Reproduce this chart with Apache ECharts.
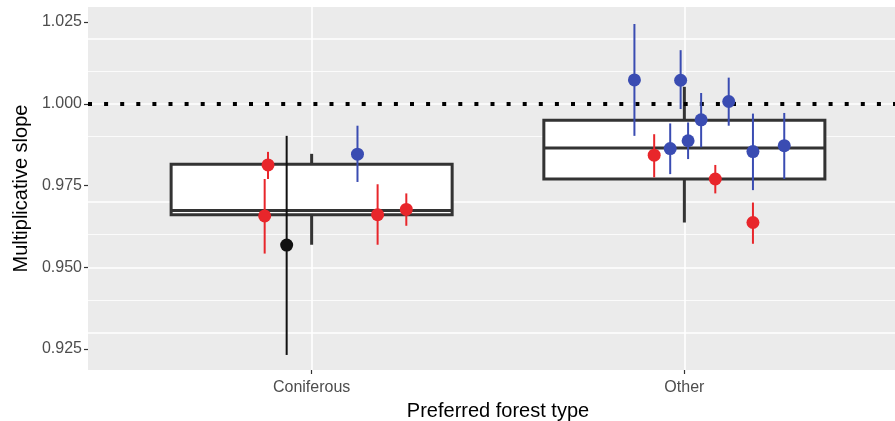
<!DOCTYPE html>
<html>
<head>
<meta charset="utf-8">
<title>Multiplicative slope by forest type</title>
<style>
  html, body { margin: 0; padding: 0; background: #fff; }
  #chart { width: 895px; height: 421px; }
</style>
<script src="https://cdn.jsdelivr.net/npm/echarts@6/dist/echarts.min.js"></script>
</head>
<body>
<div id="chart"></div>
<script>
// categories on the x axis (placed at 1 and 2)
var categories = ['Coniferous', 'Other'];
var categoryPos = [1, 2];

// box stats per category: [lower whisker, Q1, median, Q3, upper whisker]
var boxStats = [
  [0.9569, 0.9661, 0.9674, 0.9815, 0.9847],
  [0.9637, 0.9770, 0.9865, 0.9950, 1.0052]
];

// individual estimates with intervals (jittered x)
var pointX    = [0.883, 0.874, 0.933, 1.123, 1.177, 1.254,
                 1.866, 1.919, 1.962, 1.990, 2.010, 2.045, 2.119, 2.083, 2.184, 2.184, 2.268];
var pointY    = [0.9813, 0.9657, 0.9568, 0.9846, 0.9661, 0.9677,
                 1.0073, 0.9843, 0.9863, 1.0072, 0.9887, 0.9951, 1.0007, 0.9770, 0.9854, 0.9637, 0.9872];
var pointLow  = [0.9770, 0.9542, 0.9232, 0.9761, 0.9569, 0.9627,
                 0.9902, 0.9775, 0.9785, 0.9984, 0.9831, 0.9867, 0.9933, 0.9726, 0.9736, 0.9572, 0.9770];
var pointHigh = [0.9853, 0.9770, 0.9902, 0.9933, 0.9754, 0.9726,
                 1.0244, 0.9907, 0.9940, 1.0164, 0.9943, 1.0033, 1.0080, 0.9813, 0.9970, 0.9698, 0.9972];
var pointGroup = ['red', 'red', 'black', 'blue', 'red', 'red',
                  'blue', 'red', 'blue', 'blue', 'blue', 'blue', 'blue', 'red', 'blue', 'red', 'blue'];

// y tick labels
var yTicks = [0.925, 0.950, 0.975, 1.000, 1.025];
var yMinor = [0.9375, 0.9625, 0.9875, 1.0125];
var refLine = 1.0;

var groupColor = { red: '#e8262b', blue: '#3a4cb2', black: '#111111' };
var boxHalf = 0.377;
var font = 'Liberation Sans, Arial, sans-serif';

var chart = echarts.init(document.getElementById('chart'));

var boxData = boxStats.map(function (s, i) { return [categoryPos[i]].concat(s); });
var barData = pointX.map(function (x, i) { return [x, pointLow[i], pointHigh[i], i]; });
var dotData = pointX.map(function (x, i) {
  return { value: [x, pointY[i]], itemStyle: { color: groupColor[pointGroup[i]] } };
});

var gridLines = [];
yTicks.forEach(function (v) { gridLines.push({ yAxis: v, lineStyle: { width: 1.6 } }); });
yMinor.forEach(function (v) { gridLines.push({ yAxis: v, lineStyle: { width: 0.8 } }); });
categoryPos.forEach(function (v) { gridLines.push({ xAxis: v, lineStyle: { width: 1.6 } }); });

var option = {
  animation: false,
  grid: {
    // the panel runs a little off the right edge of the picture
    left: 88, top: 7, width: 820, height: 363,
    outerBoundsMode: 'none',
    show: true, backgroundColor: '#ebebeb', borderWidth: 0
  },
  xAxis: {
    type: 'value', min: 0.4, max: 2.6,
    axisLine: { show: false },
    splitLine: { show: false },
    axisTick: { show: true, customValues: categoryPos, length: 4, lineStyle: { color: '#333', width: 1.2 } },
    axisLabel: {
      customValues: categoryPos, margin: 10,
      color: '#4d4d4d', fontSize: 16, fontFamily: font,
      formatter: function (v) { return categories[categoryPos.indexOf(v)] || ''; }
    },
    name: 'Preferred forest type', nameLocation: 'middle', nameGap: 31,
    nameTextStyle: { color: '#000', fontSize: 20, fontFamily: font }
  },
  yAxis: {
    type: 'value', min: 0.9186, max: 1.0296,
    axisLine: { show: false },
    splitLine: { show: false },
    axisTick: { show: true, customValues: yTicks, length: 4, lineStyle: { color: '#333', width: 1.2 } },
    axisLabel: {
      customValues: yTicks, margin: 6,
      color: '#4d4d4d', fontSize: 16, fontFamily: font,
      formatter: function (v) { return v.toFixed(3); }
    },
    name: 'Multiplicative slope', nameLocation: 'middle', nameGap: 56, nameRotate: 90,
    nameTextStyle: { color: '#000', fontSize: 20, fontFamily: font }
  },
  series: [
    {
      // panel grid lines
      type: 'line', data: [], z: 1, silent: true,
      markLine: {
        z: 1, silent: true, symbol: 'none', label: { show: false },
        lineStyle: { color: '#ffffff', type: 'solid' },
        data: gridLines
      }
    },
    {
      type: 'custom', z: 2, data: boxData,
      renderItem: function (params, api) {
        var x = api.value(0);
        var lo = api.value(1), q1 = api.value(2), med = api.value(3), q3 = api.value(4), hi = api.value(5);
        var tl = api.coord([x - boxHalf, q3]);
        var br = api.coord([x + boxHalf, q1]);
        var ml = api.coord([x - boxHalf, med]);
        var mr = api.coord([x + boxHalf, med]);
        var top = api.coord([x, hi]);
        var bot = api.coord([x, lo]);
        var st = { stroke: '#333333', lineWidth: 3, fill: null };
        return {
          type: 'group',
          children: [
            { type: 'line', shape: { x1: top[0], y1: top[1], x2: top[0], y2: tl[1] }, style: st },
            { type: 'line', shape: { x1: bot[0], y1: br[1], x2: bot[0], y2: bot[1] }, style: st },
            { type: 'rect', shape: { x: tl[0], y: tl[1], width: br[0] - tl[0], height: br[1] - tl[1] },
              style: { fill: '#ffffff', stroke: '#333333', lineWidth: 3 } },
            { type: 'line', shape: { x1: ml[0], y1: ml[1], x2: mr[0], y2: mr[1] }, style: st }
          ]
        };
      }
    },
    {
      // reference line at 1
      type: 'line', data: [], z: 3, silent: true,
      markLine: {
        z: 3, silent: true, symbol: 'none', label: { show: false },
        lineStyle: { color: '#000000', width: 4, type: [4, 12.1], cap: 'butt' },
        data: [{ yAxis: refLine }]
      }
    },
    {
      type: 'custom', z: 4, data: barData,
      renderItem: function (params, api) {
        var a = api.coord([api.value(0), api.value(1)]);
        var b = api.coord([api.value(0), api.value(2)]);
        return {
          type: 'line',
          shape: { x1: a[0], y1: a[1], x2: b[0], y2: b[1] },
          style: { stroke: groupColor[pointGroup[api.value(3)]], lineWidth: 2 }
        };
      }
    },
    {
      type: 'scatter', z: 6, data: dotData, symbolSize: 13,
      itemStyle: { opacity: 1 }
    }
  ]
};

chart.setOption(option);
</script>
</body>
</html>
